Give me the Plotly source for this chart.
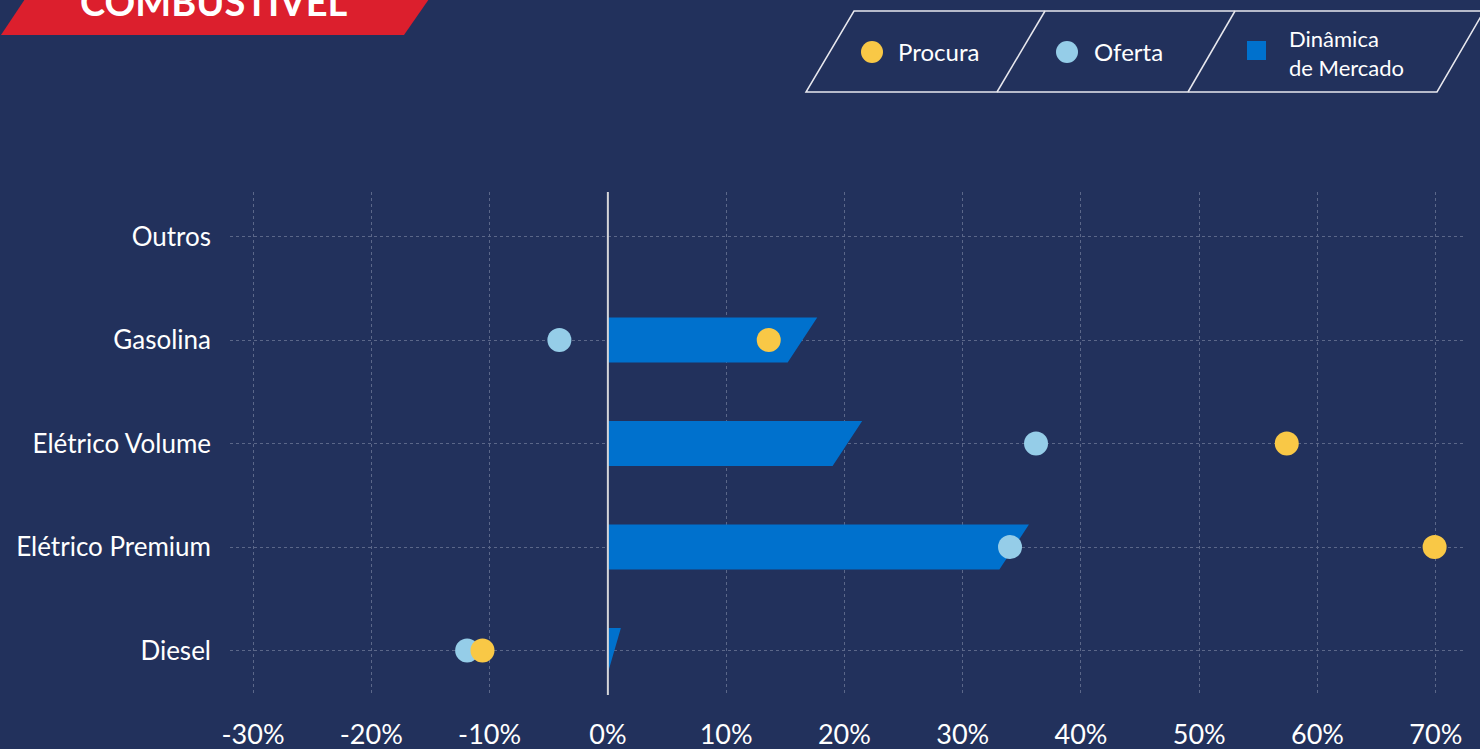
import plotly.graph_objects as go

# Dados (em %)
categorias = ["Outros", "Gasolina", "Elétrico Volume", "Elétrico Premium", "Diesel"]
procura = [None, 13.6, 57.4, 69.9, -10.6]
oferta = [None, -4.1, 36.2, 34.0, -11.9]
dinamica = [None, 17.7, 21.5, 35.6, 1.1]

x_ticks = [-30, -20, -10, 0, 10, 20, 30, 40, 50, 60, 70]
x_labels = ["-30%", "-20%", "-10%", "0%", "10%", "20%", "30%", "40%", "50%", "60%", "70%"]

BG = "#22315c"
AZUL = "#0071cd"
AMARELO = "#f9c846"
AZUL_CLARO = "#95cde8"
VERMELHO = "#dc1f2d"
FONTE = "Lato"

W, H = 1480, 749
L, R, T, B = 230, 17, 192, 54


def px(x):
    return (x - L) / (W - L - R)


def py(y):
    return (H - B - y) / (H - T - B)


n = len(categorias)
pos = [n - 1 - i for i in range(n)]  # Outros no topo

# barras inclinadas (paralelogramo) desenhadas em coordenadas dos dados
meia = 0.217
inclin = 2.5
bx, by = [], []
for v, p in zip(dinamica, pos):
    if v is None:
        continue
    baixo = max(v - inclin, 0)
    bx += [0, 0, v, baixo, 0, None]
    by += [p - meia, p + meia, p + meia, p - meia, p - meia, None]

fig = go.Figure()
fig.add_trace(go.Scatter(
    x=bx, y=by, fill="toself", fillcolor=AZUL, mode="lines",
    line=dict(width=0, color=AZUL), name="Dinâmica de Mercado",
    hoverinfo="skip", showlegend=False,
))
fig.add_trace(go.Scatter(
    x=oferta, y=pos, mode="markers", name="Oferta",
    marker=dict(color=AZUL_CLARO, size=24), showlegend=False,
))
fig.add_trace(go.Scatter(
    x=procura, y=pos, mode="markers", name="Procura",
    marker=dict(color=AMARELO, size=24), showlegend=False,
))

shapes = []
# linha do zero
shapes.append(dict(type="line", xref="x", yref="paper", x0=0, x1=0, y0=0, y1=1,
                   line=dict(color="#d4d4d8", width=2), layer="above"))

# faixa vermelha do título
shapes.append(dict(
    type="path", xref="paper", yref="paper", layer="above",
    path=f"M {px(25)},{py(-1)} L {px(429)},{py(-1)} L {px(404)},{py(35)} L {px(1)},{py(35)} Z",
    fillcolor=VERMELHO, line=dict(width=0),
))

# caixa da legenda (paralelogramos)
lw = dict(color="#e8e8ee", width=1.5)
shapes.append(dict(
    type="path", xref="paper", yref="paper", layer="above",
    path=f"M {px(854)},{py(11)} L {px(1484)},{py(11)} L {px(1437)},{py(92)} L {px(806)},{py(92)} Z",
    line=lw,
))
for xt, xb in [(1045, 997), (1235, 1188)]:
    shapes.append(dict(type="line", xref="paper", yref="paper", layer="above",
                       x0=px(xt), y0=py(11), x1=px(xb), y1=py(92), line=lw))

# marcadores da legenda
for cx, cor in [(872, AMARELO), (1067, AZUL_CLARO)]:
    shapes.append(dict(type="circle", xref="paper", yref="paper", layer="above",
                       x0=px(cx - 11), x1=px(cx + 11), y0=py(52 + 11), y1=py(52 - 11),
                       fillcolor=cor, line=dict(width=0)))
shapes.append(dict(type="rect", xref="paper", yref="paper", layer="above",
                   x0=px(1247), x1=px(1266), y0=py(60), y1=py(41),
                   fillcolor=AZUL, line=dict(width=0)))

annotations = [
    dict(text="<b>COMBUSTÍVEL</b>", xref="paper", yref="paper", x=px(78), y=py(1),
         xanchor="left", yanchor="middle", showarrow=False,
         font=dict(family=FONTE, size=38, color="white")),
    dict(text="Procura", xref="paper", yref="paper", x=px(896), y=py(51),
         xanchor="left", yanchor="middle", showarrow=False,
         font=dict(family=FONTE, size=24, color="white")),
    dict(text="Oferta", xref="paper", yref="paper", x=px(1092), y=py(51),
         xanchor="left", yanchor="middle", showarrow=False,
         font=dict(family=FONTE, size=24, color="white")),
    dict(text="Dinâmica<br>de Mercado", xref="paper", yref="paper", x=px(1287), y=py(53),
         xanchor="left", yanchor="middle", showarrow=False, align="left",
         font=dict(family=FONTE, size=22, color="white")),
]

fig.update_layout(
    width=W, height=H,
    paper_bgcolor=BG, plot_bgcolor=BG,
    margin=dict(l=L, r=R, t=T, b=B),
    font=dict(family=FONTE, color="white"),
    shapes=shapes, annotations=annotations,
    showlegend=False,
    xaxis=dict(
        range=[-31.95, 72.3], tickmode="array", tickvals=x_ticks, ticktext=x_labels,
        showgrid=True, gridcolor="#5b6789", griddash="dot", gridwidth=1,
        zeroline=False, showline=False, ticks="", automargin=False,
        tickfont=dict(size=27, color="white"), ticklabelstandoff=21,
    ),
    yaxis=dict(
        range=[-0.43, 4.43], tickmode="array", tickvals=pos, ticktext=categorias,
        showgrid=True, gridcolor="#5b6789", griddash="dot", gridwidth=1,
        zeroline=False, showline=False, ticks="", automargin=False,
        tickfont=dict(size=26, color="white"), ticklabelstandoff=18,
    ),
)

fig.write_html(
    "out.html",
    config={"displayModeBar": False},
    post_script="document.body.style.margin='0';document.body.style.background='#22315c';",
)
